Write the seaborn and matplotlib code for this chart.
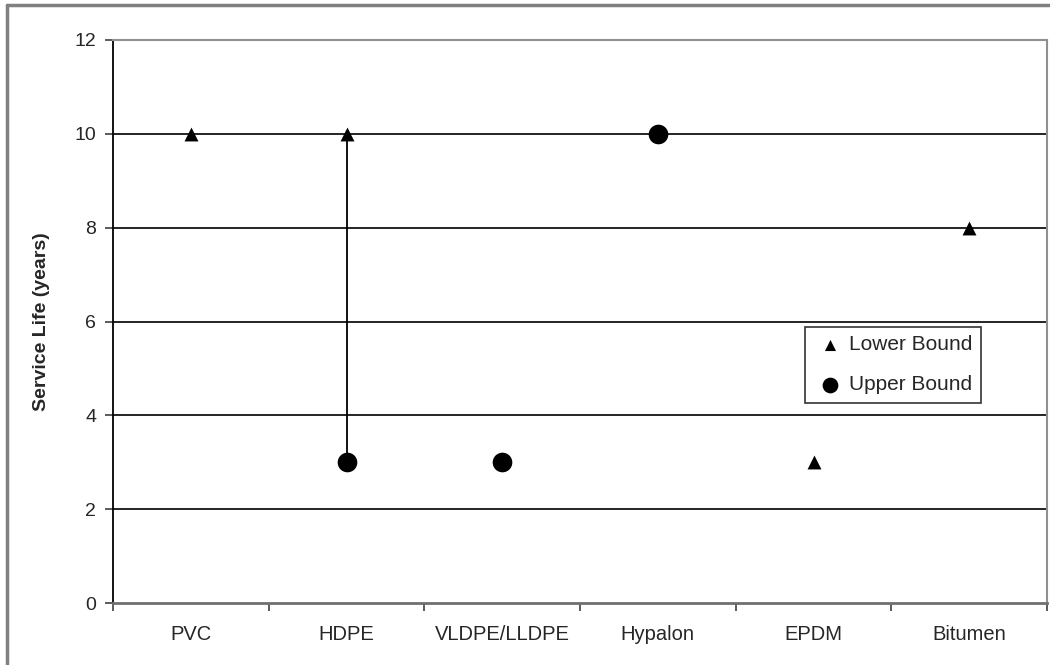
import numpy as np
import pandas as pd
import matplotlib
matplotlib.use("Agg")
import matplotlib.pyplot as plt
from matplotlib.lines import Line2D
import seaborn as sns

materials = ["PVC", "HDPE", "VLDPE/LLDPE", "Hypalon", "EPDM", "Bitumen"]
lower_bound = [10, 10, np.nan, np.nan, 3, 8]
upper_bound = [np.nan, 3, 3, 10, np.nan, np.nan]
y_ticks = [0, 2, 4, 6, 8, 10, 12]

rows = []
for m, lo, up in zip(materials, lower_bound, upper_bound):
    rows.append({"material": m, "life": lo, "bound": "Lower Bound"})
    rows.append({"material": m, "life": up, "bound": "Upper Bound"})
df = pd.DataFrame(rows)
df["material"] = pd.Categorical(df["material"], categories=materials, ordered=True)

sns.set_theme(style="white")
plt.rcParams["font.family"] = ["Liberation Sans", "DejaVu Sans"]

fig = plt.figure(figsize=(10.5, 6.65), dpi=100)
ax = fig.add_axes([113 / 1050, 1 - 603 / 665, 934 / 1050, 563 / 665])

# horizontal gridlines
for t in y_ticks[1:]:
    ax.axhline(t, color="#808080" if t == 12 else "black", lw=1.2, zorder=1)

# high-low line where both bounds exist
pos = {m: i for i, m in enumerate(materials)}
for m, lo, up in zip(materials, lower_bound, upper_bound):
    if np.isfinite(lo) and np.isfinite(up):
        ax.vlines(pos[m], min(lo, up), max(lo, up), color="black", lw=1.3, zorder=2)

lo_df = df[df["bound"] == "Lower Bound"].dropna()
up_df = df[df["bound"] == "Upper Bound"].dropna()
lo_df = lo_df.assign(x=lo_df["material"].cat.codes)
up_df = up_df.assign(x=up_df["material"].cat.codes)

sns.scatterplot(data=lo_df, x="x", y="life", marker="^", s=100, color="black",
                edgecolor="black", linewidth=0, ax=ax, zorder=3, label="Lower Bound")
sns.scatterplot(data=up_df, x="x", y="life", marker="o", s=200, color="black",
                edgecolor="black", linewidth=0, ax=ax, zorder=3, label="Upper Bound")

ax.set_xlim(-0.5, len(materials) - 0.5)
ax.set_ylim(0, 12)
ax.set_yticks(y_ticks)
ax.set_yticklabels([str(t) for t in y_ticks], fontsize=14)
ax.set_xticks(range(len(materials)))
ax.set_xticklabels(materials, fontsize=14.5)
ax.set_xticks(np.arange(-0.5, len(materials), 1.0), minor=True)
ax.tick_params(axis="x", which="major", length=0, pad=16)
ax.tick_params(axis="x", which="minor", length=6, width=1.2, color="#404040", direction="out", bottom=True)
ax.tick_params(axis="y", which="major", length=6, width=1.2, color="#404040", direction="out", left=True, pad=6)
ax.set_xlabel("")
ax.set_ylabel("Service Life (years)", fontsize=14, fontweight="bold", labelpad=18)

ax.spines["left"].set_color("black")
ax.spines["left"].set_linewidth(1.3)
ax.spines["bottom"].set_color("#707070")
ax.spines["bottom"].set_linewidth(2)
for s in ("top", "right"):
    ax.spines[s].set_color("#909090")
    ax.spines[s].set_linewidth(1.5)

leg = ax.legend(loc="upper left", bbox_to_anchor=(0.741, 0.490), borderaxespad=0,
                frameon=True, fancybox=False, shadow=False, fontsize=15,
                labelspacing=1.0, handletextpad=0.1, borderpad=0.4,
                handlelength=1.6, markerscale=0.8)
leg.get_frame().set_edgecolor("black")
leg.get_frame().set_linewidth(1.2)

# chart-area border (left and top edges)
fig.add_artist(Line2D([7 / 1050, 7 / 1050], [0, 1 - 5 / 665], color="#808080", lw=2.5))
fig.add_artist(Line2D([7 / 1050, 1], [1 - 5 / 665, 1 - 5 / 665], color="#808080", lw=2.5))

fig.savefig("out.png", dpi=100)
